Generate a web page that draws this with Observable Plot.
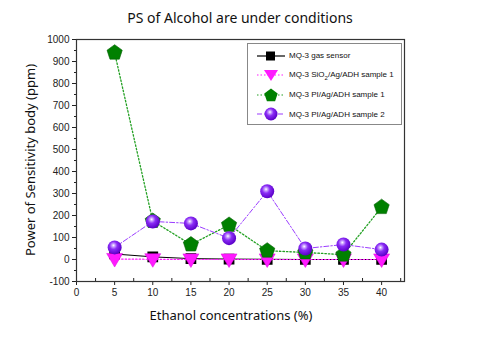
<!DOCTYPE html>
<html><head><meta charset="utf-8">
<script src="https://cdn.jsdelivr.net/npm/d3@7"></script>
<script src="https://cdn.jsdelivr.net/npm/@observablehq/plot@0.6"></script>
<style>
body{margin:0;background:#fff;font-family:"Liberation Sans",Arial,sans-serif}
#wrap{position:relative;width:480px;height:337px;overflow:hidden}
#title{position:absolute;left:0;width:480px;top:8px;text-align:center;font-family:"Noto Sans",sans-serif;font-size:14px;color:#111}
#xlab{position:absolute;left:0;width:462px;top:306px;text-align:center;font-family:"Noto Sans",sans-serif;font-size:13px;color:#111}
#ylab{position:absolute;left:30px;top:160px;transform:translate(-50%,-50%) rotate(-90deg);white-space:nowrap;font-family:"Noto Sans",sans-serif;font-size:13px;color:#111}
#legend{position:absolute;left:247px;top:43px;width:155px;height:82px;border:1px solid #888;background:#fff;box-sizing:border-box;padding-top:2px}
.row{display:flex;align-items:center;height:19.5px;font-size:8px;color:#111}
.row svg{margin-left:8px;margin-right:3px}
</style></head>
<body>
<div id="wrap">
<div id="chart"></div>
<div id="title">PS of Alcohol are under conditions</div>
<div id="xlab">Ethanol concentrations (%)</div>
<div id="ylab">Power of Sensitivity body (ppm)</div>
<div id="legend"></div>
</div>
<script>
const concentrations = [5, 10, 15, 20, 25, 30, 35, 40];
const gasSensor   = [25, 12, 4, 2, 1, 0, 0, 0];
const sio2Sample1 = [2, 1, 0, 0, 0, 0, 0, 0];
const piSample1   = [940, 175, 68, 157, 40, 32, 22, 238];
const piSample2   = [55, 173, 164, 97, 310, 50, 68, 45];
const seriesNames = ["MQ-3 gas sensor", "MQ-3 SiO2/Ag/ADH sample 1", "MQ-3 PI/Ag/ADH sample 1", "MQ-3 PI/Ag/ADH sample 2"];
const xTicks = [0, 5, 10, 15, 20, 25, 30, 35, 40];
const xMinorTicks = [2.5, 7.5, 12.5, 17.5, 22.5, 27.5, 32.5, 37.5, 42.5];
const yTicks = [-100, 0, 100, 200, 300, 400, 500, 600, 700, 800, 900, 1000];
const yMinorTicks = [-50, 50, 150, 250, 350, 450, 550, 650, 750, 850, 950];

const rows = (vals, s) => concentrations.map((c, i) => ({x: c, y: vals[i], s}));
const d0 = rows(gasSensor, seriesNames[0]);
const d1 = rows(sio2Sample1, seriesNames[1]);
const d2 = rows(piSample1, seriesNames[2]);
const d3s = rows(piSample2, seriesNames[3]);

const triDown = {draw(ctx, size) {
  const r = Math.sqrt(size / Math.PI);
  ctx.moveTo(-r, -r * 0.7); ctx.lineTo(r, -r * 0.7); ctx.lineTo(0, r * 1.0); ctx.closePath();
}};
const pentagon = {draw(ctx, size) {
  const r = Math.sqrt(size / Math.PI);
  for (let i = 0; i < 5; i++) {
    const a = -Math.PI / 2 + i * 2 * Math.PI / 5;
    const px = r * Math.cos(a), py = r * Math.sin(a);
    if (i) ctx.lineTo(px, py); else ctx.moveTo(px, py);
  }
  ctx.closePath();
}};

const magenta = "#ff1aff", green = "#008000", purple = "#9b3dff";
const fmt = d => (d < 0 ? "-" : "") + Math.abs(d);

const svg = Plot.plot({
  width: 480, height: 337,
  marginLeft: 76, marginRight: 76, marginTop: 39, marginBottom: 56,
  style: {fontFamily: '"Liberation Sans", Arial, sans-serif', fontSize: "10px", background: "#fff", color: "#222"},
  x: {domain: [0, 43]},
  y: {domain: [-100, 1000]},
  marks: [
    Plot.axisX({ticks: xTicks, tickSize: 4, tickPadding: 3, label: null, fontSize: 10, tickFormat: fmt}),
    Plot.axisX({ticks: xMinorTicks, tickSize: -3, text: null, label: null}),
    Plot.axisY({ticks: yTicks, tickSize: 4, tickPadding: 3, label: null, fontSize: 10, tickFormat: fmt}),
    Plot.axisY({ticks: yMinorTicks, tickSize: 2, text: null, label: null}),
    Plot.frame({stroke: "#333", strokeWidth: 1.2}),
    Plot.line(d0, {x: "x", y: "y", stroke: "#000", strokeWidth: 1}),
    Plot.dot(d0, {x: "x", y: "y", symbol: "square", r: 5.2, fill: "#000", stroke: "#000"}),
    Plot.line(d1, {x: "x", y: "y", stroke: magenta, strokeWidth: 1.2, strokeDasharray: "1.5,2"}),
    Plot.dot(d1, {x: "x", y: "y", symbol: triDown, r: 8, fill: magenta, stroke: "#e000e0", strokeWidth: 0.5}),
    Plot.line(d2, {x: "x", y: "y", stroke: "#22a022", strokeWidth: 1.3, strokeDasharray: "1.5,2"}),
    Plot.dot(d2, {x: "x", y: "y", symbol: pentagon, r: 8, fill: green, stroke: "#006000", strokeWidth: 0.6}),
    Plot.line(d3s, {x: "x", y: "y", stroke: purple, strokeWidth: 1, strokeDasharray: "5,2,1.5,2"}),
    Plot.dot(d3s, {x: "x", y: "y", r: 7, fill: "url(#sphereGrad)", stroke: "none"})
  ]
});

const defs = `<defs><radialGradient id="sphereGrad" cx="40%" cy="38%" r="62%" fx="42%" fy="35%">
<stop offset="0%" stop-color="#ffffff"/><stop offset="18%" stop-color="#c9a0ff"/>
<stop offset="45%" stop-color="#8a2cf5"/><stop offset="100%" stop-color="#5a00c8"/></radialGradient></defs>`;
svg.insertAdjacentHTML("afterbegin", defs);
document.getElementById("chart").appendChild(svg);

// legend
const legendSpec = [
  {name: seriesNames[0], stroke: "#000", dash: "none", marker: `<rect x="10" y="3.5" width="9" height="9" fill="#000"/>`},
  {name: seriesNames[1], stroke: magenta, dash: "1.5,2", marker: `<path d="M8,3 L22,3 L15,14 Z" fill="${magenta}"/>`},
  {name: seriesNames[2], stroke: "#22a022", dash: "1.5,2", marker: `<path d="M15,1.5 L21.7,6.4 L19.1,14.3 L10.9,14.3 L8.3,6.4 Z" fill="${green}"/>`},
  {name: seriesNames[3], stroke: purple, dash: "5,2,1.5,2", marker: `<circle cx="15" cy="8" r="6.5" fill="url(#sphereGrad2)"/>`}
];
const lg = document.getElementById("legend");
legendSpec.forEach((d, i) => {
  const row = document.createElement("div");
  row.className = "row";
  const label = d.name.replace("SiO2", "SiO<sub style='font-size:6px'>2</sub>");
  row.innerHTML = `<svg width="30" height="16">${i === 3 ? `<defs><radialGradient id="sphereGrad2" cx="40%" cy="38%" r="62%" fx="42%" fy="35%"><stop offset="0%" stop-color="#ffffff"/><stop offset="18%" stop-color="#c9a0ff"/><stop offset="45%" stop-color="#8a2cf5"/><stop offset="100%" stop-color="#5a00c8"/></radialGradient></defs>` : ""}
    <line x1="1" x2="29" y1="8" y2="8" stroke="${d.stroke}" stroke-width="1.2" stroke-dasharray="${d.dash}"/>${d.marker}</svg><span>${label}</span>`;
  lg.appendChild(row);
});
</script>
</body></html>
